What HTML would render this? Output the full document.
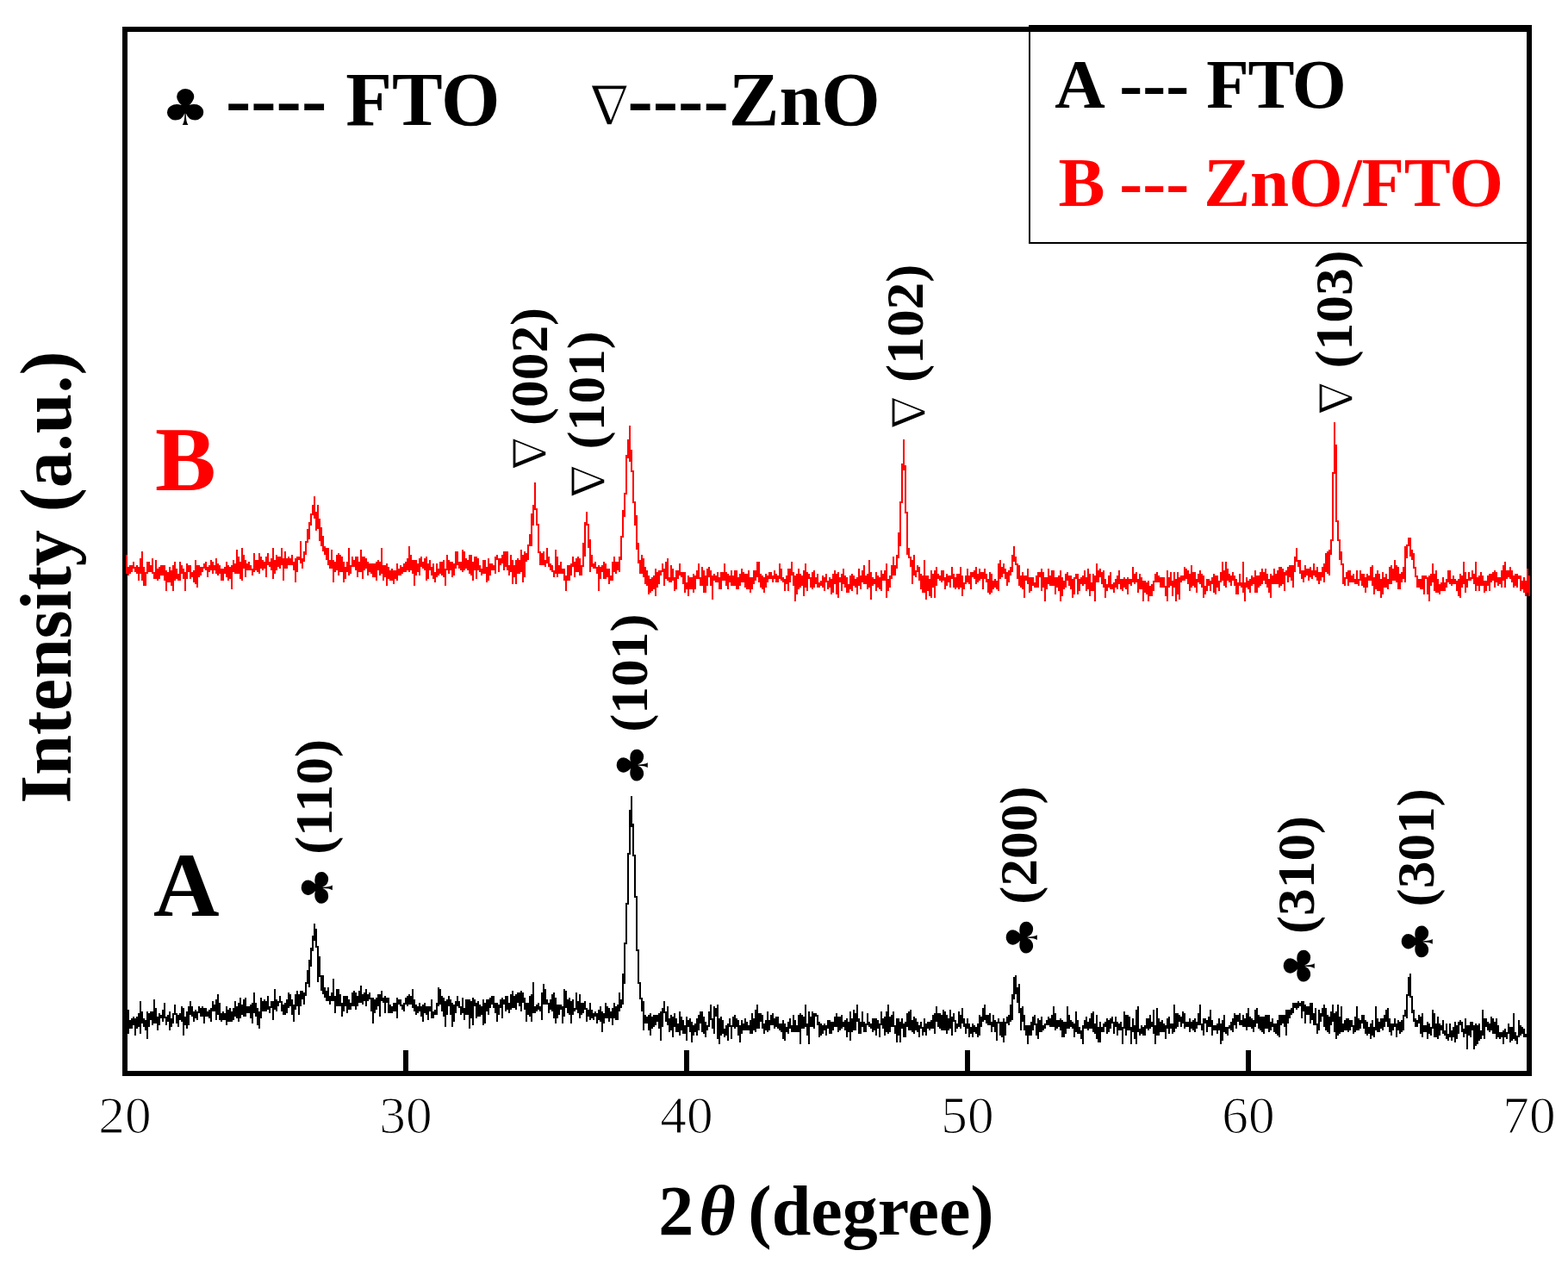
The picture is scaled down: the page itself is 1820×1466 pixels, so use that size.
<!DOCTYPE html>
<html><head><meta charset="utf-8"><title>XRD</title>
<style>html,body{margin:0;padding:0;background:#fff;overflow:hidden} svg{display:block}</style>
</head><body>
<svg width="1820" height="1466" viewBox="0 0 1820 1466" font-family='"Liberation Serif", "Times New Roman", serif'><rect width="100%" height="100%" fill="#fff"/><g fill="#000" shape-rendering="crispEdges"><rect x="142" y="31" width="1636" height="6"/><rect x="142" y="1243" width="1636" height="6"/><rect x="142" y="31" width="6" height="1218"/><rect x="1772" y="29" width="6" height="1220"/><rect x="468" y="1219" width="6" height="24"/><rect x="794" y="1219" width="6" height="24"/><rect x="1120" y="1219" width="6" height="24"/><rect x="1446" y="1219" width="6" height="24"/><rect x="1194" y="29" width="584" height="2"/><rect x="1194" y="29" width="2" height="254"/><rect x="1194" y="281" width="584" height="2"/></g><path d="M146 1178h2V1188h-2zM148 1172h2V1200h-2zM150 1184h2V1194h-2zM152 1182h2V1194h-2zM154 1180h2V1190h-2zM156 1182h2V1202h-2zM158 1180h2V1194h-2zM160 1176h2V1192h-2zM162 1162h2V1200h-2zM164 1174h2V1188h-2zM166 1182h2V1192h-2zM168 1184h2V1196h-2zM170 1174h2V1206h-2zM172 1176h2V1192h-2zM174 1174h2V1184h-2zM176 1174h2V1190h-2zM178 1160h2V1188h-2zM180 1170h2V1188h-2zM182 1180h2V1196h-2zM184 1176h2V1190h-2zM186 1178h2V1182h-2zM188 1172h2V1186h-2zM190 1164h2V1182h-2zM192 1180h2V1190h-2zM194 1178h2V1186h-2zM196 1174h2V1196h-2zM198 1182h2V1192h-2zM200 1176h2V1188h-2zM202 1166h2V1178h-2zM204 1176h2V1188h-2zM206 1178h2V1192h-2zM208 1176h2V1184h-2zM210 1168h2V1186h-2zM212 1170h2V1202h-2zM214 1180h2V1190h-2zM216 1174h2V1194h-2zM218 1168h2V1190h-2zM220 1162h2V1178h-2zM222 1168h2V1180h-2zM224 1174h2V1186h-2zM226 1172h2V1182h-2zM228 1174h2V1184h-2zM230 1168h2V1176h-2zM232 1170h2V1180h-2zM234 1168h2V1180h-2zM236 1170h2V1188h-2zM238 1170h2V1180h-2zM240 1174h2V1180h-2zM242 1172h2V1182h-2zM244 1170h2V1186h-2zM246 1162h2V1174h-2zM248 1166h2V1174h-2zM250 1160h2V1184h-2zM252 1154h2V1178h-2zM254 1164h2V1184h-2zM256 1176h2V1186h-2zM258 1174h2V1184h-2zM260 1176h2V1184h-2zM262 1168h2V1190h-2zM264 1172h2V1186h-2zM266 1170h2V1186h-2zM268 1174h2V1186h-2zM270 1170h2V1184h-2zM272 1162h2V1180h-2zM274 1168h2V1182h-2zM276 1164h2V1186h-2zM278 1158h2V1182h-2zM280 1166h2V1178h-2zM282 1160h2V1180h-2zM284 1158h2V1180h-2zM286 1168h2V1176h-2zM288 1168h2V1176h-2zM290 1166h2V1182h-2zM292 1164h2V1188h-2zM294 1152h2V1176h-2zM296 1164h2V1180h-2zM298 1170h2V1190h-2zM300 1174h2V1194h-2zM302 1158h2V1182h-2zM304 1162h2V1174h-2zM306 1160h2V1174h-2zM308 1162h2V1174h-2zM310 1156h2V1172h-2zM312 1168h2V1176h-2zM314 1162h2V1170h-2zM316 1162h2V1184h-2zM318 1148h2V1172h-2zM320 1160h2V1174h-2zM322 1162h2V1168h-2zM324 1156h2V1164h-2zM326 1162h2V1174h-2zM328 1166h2V1178h-2zM330 1164h2V1178h-2zM332 1160h2V1176h-2zM334 1152h2V1170h-2zM336 1154h2V1168h-2zM338 1160h2V1178h-2zM340 1166h2V1186h-2zM342 1154h2V1172h-2zM344 1150h2V1168h-2zM346 1154h2V1178h-2zM348 1150h2V1168h-2zM350 1150h2V1160h-2zM352 1152h2V1166h-2zM354 1140h2V1156h-2zM356 1126h2V1142h-2zM358 1114h2V1146h-2zM360 1100h2V1122h-2zM362 1086h2V1104h-2zM364 1072h2V1092h-2zM366 1078h2V1100h-2zM368 1098h2V1140h-2zM370 1110h2V1134h-2zM372 1132h2V1150h-2zM374 1132h2V1154h-2zM376 1146h2V1158h-2zM378 1150h2V1162h-2zM380 1146h2V1162h-2zM382 1156h2V1166h-2zM384 1152h2V1162h-2zM386 1136h2V1162h-2zM388 1156h2V1176h-2zM390 1148h2V1168h-2zM392 1148h2V1168h-2zM394 1154h2V1168h-2zM396 1164h2V1180h-2zM398 1156h2V1174h-2zM400 1156h2V1168h-2zM402 1156h2V1176h-2zM404 1160h2V1172h-2zM406 1164h2V1172h-2zM408 1152h2V1168h-2zM410 1150h2V1168h-2zM412 1152h2V1172h-2zM414 1156h2V1168h-2zM416 1150h2V1164h-2zM418 1144h2V1164h-2zM420 1154h2V1166h-2zM422 1152h2V1162h-2zM424 1148h2V1168h-2zM426 1154h2V1162h-2zM428 1152h2V1160h-2zM430 1158h2V1174h-2zM432 1158h2V1188h-2zM434 1160h2V1176h-2zM436 1158h2V1172h-2zM438 1154h2V1168h-2zM440 1154h2V1180h-2zM442 1150h2V1162h-2zM444 1158h2V1164h-2zM446 1156h2V1176h-2zM448 1158h2V1164h-2zM450 1158h2V1176h-2zM452 1166h2V1176h-2zM454 1168h2V1176h-2zM456 1164h2V1174h-2zM458 1164h2V1174h-2zM460 1158h2V1182h-2zM462 1160h2V1166h-2zM464 1160h2V1168h-2zM466 1166h2V1172h-2zM468 1164h2V1174h-2zM470 1158h2V1166h-2zM472 1156h2V1168h-2zM474 1154h2V1166h-2zM476 1156h2V1166h-2zM478 1148h2V1170h-2zM480 1160h2V1174h-2zM482 1166h2V1178h-2zM484 1168h2V1176h-2zM486 1164h2V1174h-2zM488 1168h2V1180h-2zM490 1166h2V1186h-2zM492 1164h2V1176h-2zM494 1168h2V1178h-2zM496 1168h2V1184h-2zM498 1168h2V1174h-2zM500 1160h2V1182h-2zM502 1174h2V1182h-2zM504 1172h2V1178h-2zM506 1164h2V1178h-2zM508 1146h2V1168h-2zM510 1148h2V1166h-2zM512 1156h2V1174h-2zM514 1158h2V1180h-2zM516 1162h2V1192h-2zM518 1160h2V1178h-2zM520 1156h2V1168h-2zM522 1160h2V1178h-2zM524 1164h2V1192h-2zM526 1166h2V1186h-2zM528 1162h2V1176h-2zM530 1156h2V1168h-2zM532 1162h2V1170h-2zM534 1168h2V1178h-2zM536 1158h2V1176h-2zM538 1170h2V1184h-2zM540 1160h2V1178h-2zM542 1160h2V1178h-2zM544 1160h2V1194h-2zM546 1162h2V1182h-2zM548 1158h2V1190h-2zM550 1160h2V1168h-2zM552 1164h2V1182h-2zM554 1162h2V1180h-2zM556 1166h2V1180h-2zM558 1168h2V1178h-2zM560 1160h2V1190h-2zM562 1164h2V1188h-2zM564 1160h2V1174h-2zM566 1160h2V1178h-2zM568 1158h2V1170h-2zM570 1156h2V1166h-2zM572 1156h2V1170h-2zM574 1164h2V1176h-2zM576 1164h2V1186h-2zM578 1166h2V1178h-2zM580 1160h2V1170h-2zM582 1158h2V1182h-2zM584 1160h2V1166h-2zM586 1156h2V1174h-2zM588 1156h2V1172h-2zM590 1164h2V1176h-2zM592 1154h2V1172h-2zM594 1150h2V1170h-2zM596 1156h2V1170h-2zM598 1154h2V1172h-2zM600 1152h2V1164h-2zM602 1152h2V1168h-2zM604 1150h2V1174h-2zM606 1152h2V1164h-2zM608 1158h2V1172h-2zM610 1164h2V1186h-2zM612 1164h2V1178h-2zM614 1156h2V1180h-2zM616 1154h2V1186h-2zM618 1140h2V1176h-2zM620 1168h2V1176h-2zM622 1166h2V1174h-2zM624 1164h2V1172h-2zM626 1168h2V1174h-2zM628 1152h2V1184h-2zM630 1142h2V1166h-2zM632 1148h2V1166h-2zM634 1160h2V1166h-2zM636 1164h2V1176h-2zM638 1160h2V1172h-2zM640 1154h2V1174h-2zM642 1152h2V1182h-2zM644 1158h2V1188h-2zM646 1166h2V1182h-2zM648 1166h2V1178h-2zM650 1166h2V1172h-2zM652 1168h2V1188h-2zM654 1148h2V1180h-2zM656 1150h2V1170h-2zM658 1160h2V1176h-2zM660 1158h2V1178h-2zM662 1162h2V1188h-2zM664 1160h2V1178h-2zM666 1170h2V1174h-2zM668 1152h2V1172h-2zM670 1162h2V1176h-2zM672 1154h2V1182h-2zM674 1164h2V1178h-2zM676 1164h2V1176h-2zM678 1162h2V1172h-2zM680 1170h2V1186h-2zM682 1172h2V1180h-2zM684 1164h2V1184h-2zM686 1172h2V1182h-2zM688 1176h2V1184h-2zM690 1174h2V1180h-2zM692 1176h2V1188h-2zM694 1172h2V1184h-2zM696 1168h2V1186h-2zM698 1174h2V1198h-2zM700 1176h2V1188h-2zM702 1164h2V1182h-2zM704 1168h2V1182h-2zM706 1170h2V1186h-2zM708 1174h2V1182h-2zM710 1170h2V1190h-2zM712 1164h2V1182h-2zM714 1168h2V1184h-2zM716 1166h2V1184h-2zM718 1152h2V1174h-2zM720 1160h2V1170h-2zM722 1130h2V1166h-2zM724 1094h2V1142h-2zM726 1048h2V1096h-2zM728 990h2V1050h-2zM730 940h2V992h-2zM732 924h2V960h-2zM734 956h2V994h-2zM736 992h2V1042h-2zM738 1040h2V1104h-2zM740 1102h2V1142h-2zM742 1140h2V1160h-2zM744 1158h2V1174h-2zM746 1162h2V1196h-2zM748 1178h2V1188h-2zM750 1180h2V1188h-2zM752 1178h2V1196h-2zM754 1176h2V1202h-2zM756 1180h2V1194h-2zM758 1178h2V1192h-2zM760 1178h2V1190h-2zM762 1178h2V1186h-2zM764 1176h2V1194h-2zM766 1174h2V1208h-2zM768 1170h2V1192h-2zM770 1162h2V1176h-2zM772 1174h2V1186h-2zM774 1168h2V1190h-2zM776 1182h2V1198h-2zM778 1178h2V1196h-2zM780 1180h2V1204h-2zM782 1176h2V1192h-2zM784 1182h2V1198h-2zM786 1188h2V1198h-2zM788 1174h2V1202h-2zM790 1180h2V1196h-2zM792 1184h2V1200h-2zM794 1190h2V1200h-2zM796 1180h2V1208h-2zM798 1184h2V1192h-2zM800 1182h2V1198h-2zM802 1186h2V1210h-2zM804 1190h2V1202h-2zM806 1188h2V1198h-2zM808 1182h2V1202h-2zM810 1178h2V1196h-2zM812 1174h2V1188h-2zM814 1174h2V1198h-2zM816 1180h2V1200h-2zM818 1186h2V1204h-2zM820 1190h2V1196h-2zM822 1174h2V1192h-2zM824 1166h2V1184h-2zM826 1182h2V1194h-2zM828 1168h2V1200h-2zM830 1170h2V1180h-2zM832 1166h2V1206h-2zM834 1182h2V1212h-2zM836 1180h2V1202h-2zM838 1184h2V1200h-2zM840 1194h2V1204h-2zM842 1190h2V1202h-2zM844 1188h2V1208h-2zM846 1182h2V1192h-2zM848 1190h2V1206h-2zM850 1180h2V1192h-2zM852 1178h2V1194h-2zM854 1182h2V1192h-2zM856 1184h2V1202h-2zM858 1190h2V1210h-2zM860 1184h2V1200h-2zM862 1188h2V1196h-2zM864 1182h2V1196h-2zM866 1186h2V1196h-2zM868 1190h2V1196h-2zM870 1184h2V1200h-2zM872 1176h2V1200h-2zM874 1182h2V1196h-2zM876 1172h2V1198h-2zM878 1166h2V1194h-2zM880 1176h2V1194h-2zM882 1176h2V1186h-2zM884 1178h2V1194h-2zM886 1188h2V1200h-2zM888 1184h2V1196h-2zM890 1174h2V1198h-2zM892 1184h2V1196h-2zM894 1178h2V1190h-2zM896 1176h2V1190h-2zM898 1182h2V1194h-2zM900 1180h2V1192h-2zM902 1180h2V1194h-2zM904 1188h2V1196h-2zM906 1188h2V1198h-2zM908 1184h2V1206h-2zM910 1188h2V1208h-2zM912 1192h2V1198h-2zM914 1186h2V1200h-2zM916 1182h2V1194h-2zM918 1190h2V1198h-2zM920 1178h2V1198h-2zM922 1184h2V1198h-2zM924 1190h2V1198h-2zM926 1178h2V1198h-2zM928 1176h2V1212h-2zM930 1178h2V1194h-2zM932 1180h2V1194h-2zM934 1166h2V1192h-2zM936 1188h2V1202h-2zM938 1174h2V1212h-2zM940 1180h2V1192h-2zM942 1174h2V1192h-2zM944 1176h2V1194h-2zM946 1176h2V1180h-2zM948 1178h2V1190h-2zM950 1186h2V1204h-2zM952 1188h2V1202h-2zM954 1190h2V1200h-2zM956 1188h2V1196h-2zM958 1190h2V1202h-2zM960 1184h2V1194h-2zM962 1184h2V1200h-2zM964 1186h2V1200h-2zM966 1186h2V1196h-2zM968 1180h2V1192h-2zM970 1176h2V1192h-2zM972 1180h2V1198h-2zM974 1180h2V1196h-2zM976 1178h2V1194h-2zM978 1186h2V1192h-2zM980 1184h2V1196h-2zM982 1182h2V1204h-2zM984 1186h2V1198h-2zM986 1174h2V1208h-2zM988 1182h2V1198h-2zM990 1172h2V1196h-2zM992 1176h2V1196h-2zM994 1166h2V1186h-2zM996 1182h2V1200h-2zM998 1186h2V1200h-2zM1000 1174h2V1192h-2zM1002 1186h2V1198h-2zM1004 1188h2V1198h-2zM1006 1176h2V1190h-2zM1008 1186h2V1192h-2zM1010 1188h2V1194h-2zM1012 1182h2V1198h-2zM1014 1182h2V1196h-2zM1016 1182h2V1202h-2zM1018 1184h2V1194h-2zM1020 1188h2V1204h-2zM1022 1174h2V1190h-2zM1024 1182h2V1194h-2zM1026 1180h2V1202h-2zM1028 1174h2V1198h-2zM1030 1166h2V1200h-2zM1032 1180h2V1198h-2zM1034 1178h2V1192h-2zM1036 1174h2V1192h-2zM1038 1190h2V1200h-2zM1040 1182h2V1210h-2zM1042 1182h2V1202h-2zM1044 1186h2V1210h-2zM1046 1182h2V1194h-2zM1048 1188h2V1204h-2zM1050 1186h2V1204h-2zM1052 1176h2V1192h-2zM1054 1174h2V1196h-2zM1056 1172h2V1196h-2zM1058 1184h2V1198h-2zM1060 1180h2V1200h-2zM1062 1182h2V1196h-2zM1064 1186h2V1198h-2zM1066 1190h2V1204h-2zM1068 1186h2V1194h-2zM1070 1192h2V1202h-2zM1072 1182h2V1198h-2zM1074 1188h2V1202h-2zM1076 1186h2V1194h-2zM1078 1186h2V1196h-2zM1080 1184h2V1194h-2zM1082 1178h2V1194h-2zM1084 1176h2V1200h-2zM1086 1168h2V1186h-2zM1088 1176h2V1192h-2zM1090 1176h2V1194h-2zM1092 1178h2V1196h-2zM1094 1172h2V1196h-2zM1096 1174h2V1196h-2zM1098 1178h2V1200h-2zM1100 1182h2V1196h-2zM1102 1172h2V1194h-2zM1104 1180h2V1202h-2zM1106 1176h2V1186h-2zM1108 1184h2V1198h-2zM1110 1188h2V1194h-2zM1112 1174h2V1192h-2zM1114 1178h2V1194h-2zM1116 1170h2V1188h-2zM1118 1182h2V1192h-2zM1120 1188h2V1200h-2zM1122 1182h2V1194h-2zM1124 1188h2V1204h-2zM1126 1192h2V1200h-2zM1128 1188h2V1204h-2zM1130 1190h2V1198h-2zM1132 1192h2V1200h-2zM1134 1188h2V1204h-2zM1136 1178h2V1202h-2zM1138 1180h2V1192h-2zM1140 1170h2V1186h-2zM1142 1166h2V1184h-2zM1144 1178h2V1188h-2zM1146 1178h2V1190h-2zM1148 1176h2V1190h-2zM1150 1186h2V1198h-2zM1152 1178h2V1192h-2zM1154 1184h2V1198h-2zM1156 1186h2V1208h-2zM1158 1182h2V1188h-2zM1160 1186h2V1202h-2zM1162 1186h2V1204h-2zM1164 1182h2V1210h-2zM1166 1186h2V1202h-2zM1168 1180h2V1188h-2zM1170 1178h2V1190h-2zM1172 1166h2V1186h-2zM1174 1154h2V1184h-2zM1176 1134h2V1160h-2zM1178 1132h2V1154h-2zM1180 1146h2V1164h-2zM1182 1142h2V1176h-2zM1184 1170h2V1196h-2zM1186 1168h2V1186h-2zM1188 1178h2V1196h-2zM1190 1190h2V1202h-2zM1192 1190h2V1212h-2zM1194 1190h2V1202h-2zM1196 1186h2V1202h-2zM1198 1180h2V1196h-2zM1200 1178h2V1190h-2zM1202 1188h2V1202h-2zM1204 1182h2V1206h-2zM1206 1184h2V1198h-2zM1208 1180h2V1198h-2zM1210 1190h2V1196h-2zM1212 1188h2V1194h-2zM1214 1184h2V1190h-2zM1216 1180h2V1190h-2zM1218 1182h2V1192h-2zM1220 1178h2V1192h-2zM1222 1168h2V1192h-2zM1224 1176h2V1196h-2zM1226 1184h2V1194h-2zM1228 1184h2V1192h-2zM1230 1182h2V1196h-2zM1232 1184h2V1204h-2zM1234 1186h2V1204h-2zM1236 1186h2V1200h-2zM1238 1168h2V1194h-2zM1240 1178h2V1194h-2zM1242 1184h2V1192h-2zM1244 1186h2V1194h-2zM1246 1188h2V1204h-2zM1248 1174h2V1198h-2zM1250 1184h2V1200h-2zM1252 1192h2V1200h-2zM1254 1196h2V1206h-2zM1256 1190h2V1212h-2zM1258 1184h2V1194h-2zM1260 1180h2V1194h-2zM1262 1186h2V1196h-2zM1264 1182h2V1194h-2zM1266 1176h2V1194h-2zM1268 1174h2V1198h-2zM1270 1188h2V1200h-2zM1272 1178h2V1206h-2zM1274 1192h2V1210h-2zM1276 1186h2V1210h-2zM1278 1192h2V1198h-2zM1280 1188h2V1198h-2zM1282 1186h2V1192h-2zM1284 1182h2V1200h-2zM1286 1184h2V1198h-2zM1288 1182h2V1194h-2zM1290 1180h2V1188h-2zM1292 1186h2V1200h-2zM1294 1180h2V1192h-2zM1296 1186h2V1202h-2zM1298 1188h2V1196h-2zM1300 1186h2V1196h-2zM1302 1192h2V1212h-2zM1304 1174h2V1194h-2zM1306 1178h2V1202h-2zM1308 1178h2V1196h-2zM1310 1180h2V1196h-2zM1312 1192h2V1212h-2zM1314 1182h2V1198h-2zM1316 1190h2V1206h-2zM1318 1172h2V1212h-2zM1320 1168h2V1198h-2zM1322 1194h2V1202h-2zM1324 1190h2V1200h-2zM1326 1192h2V1202h-2zM1328 1190h2V1202h-2zM1330 1182h2V1194h-2zM1332 1182h2V1196h-2zM1334 1178h2V1194h-2zM1336 1186h2V1192h-2zM1338 1172h2V1200h-2zM1340 1190h2V1212h-2zM1342 1170h2V1202h-2zM1344 1182h2V1202h-2zM1346 1186h2V1198h-2zM1348 1184h2V1198h-2zM1350 1188h2V1198h-2zM1352 1190h2V1206h-2zM1354 1182h2V1194h-2zM1356 1180h2V1200h-2zM1358 1188h2V1194h-2zM1360 1188h2V1200h-2zM1362 1166h2V1198h-2zM1364 1176h2V1194h-2zM1366 1176h2V1192h-2zM1368 1178h2V1186h-2zM1370 1180h2V1192h-2zM1372 1174h2V1188h-2zM1374 1176h2V1194h-2zM1376 1186h2V1192h-2zM1378 1186h2V1192h-2zM1380 1182h2V1198h-2zM1382 1186h2V1194h-2zM1384 1184h2V1196h-2zM1386 1182h2V1198h-2zM1388 1186h2V1194h-2zM1390 1176h2V1190h-2zM1392 1166h2V1190h-2zM1394 1188h2V1196h-2zM1396 1182h2V1202h-2zM1398 1182h2V1188h-2zM1400 1184h2V1198h-2zM1402 1180h2V1192h-2zM1404 1172h2V1192h-2zM1406 1184h2V1202h-2zM1408 1190h2V1196h-2zM1410 1190h2V1196h-2zM1412 1188h2V1200h-2zM1414 1182h2V1196h-2zM1416 1188h2V1212h-2zM1418 1184h2V1208h-2zM1420 1178h2V1198h-2zM1422 1192h2V1200h-2zM1424 1192h2V1202h-2zM1426 1190h2V1194h-2zM1428 1186h2V1196h-2zM1430 1182h2V1198h-2zM1432 1176h2V1190h-2zM1434 1178h2V1194h-2zM1436 1178h2V1186h-2zM1438 1176h2V1190h-2zM1440 1184h2V1190h-2zM1442 1178h2V1192h-2zM1444 1182h2V1192h-2zM1446 1176h2V1196h-2zM1448 1170h2V1192h-2zM1450 1180h2V1192h-2zM1452 1182h2V1194h-2zM1454 1184h2V1198h-2zM1456 1172h2V1192h-2zM1458 1170h2V1188h-2zM1460 1178h2V1194h-2zM1462 1180h2V1196h-2zM1464 1180h2V1198h-2zM1466 1180h2V1200h-2zM1468 1178h2V1194h-2zM1470 1178h2V1194h-2zM1472 1178h2V1198h-2zM1474 1186h2V1196h-2zM1476 1182h2V1192h-2zM1478 1188h2V1198h-2zM1480 1188h2V1200h-2zM1482 1184h2V1202h-2zM1484 1178h2V1204h-2zM1486 1178h2V1190h-2zM1488 1178h2V1188h-2zM1490 1178h2V1192h-2zM1492 1172h2V1202h-2zM1494 1172h2V1188h-2zM1496 1172h2V1182h-2zM1498 1170h2V1178h-2zM1500 1164h2V1176h-2zM1502 1164h2V1170h-2zM1504 1164h2V1172h-2zM1506 1162h2V1170h-2zM1508 1164h2V1168h-2zM1510 1162h2V1182h-2zM1512 1162h2V1174h-2zM1514 1166h2V1188h-2zM1516 1168h2V1178h-2zM1518 1168h2V1178h-2zM1520 1164h2V1188h-2zM1522 1164h2V1184h-2zM1524 1176h2V1190h-2zM1526 1170h2V1190h-2zM1528 1188h2V1200h-2zM1530 1172h2V1196h-2zM1532 1176h2V1186h-2zM1534 1170h2V1180h-2zM1536 1166h2V1192h-2zM1538 1170h2V1196h-2zM1540 1178h2V1198h-2zM1542 1180h2V1200h-2zM1544 1174h2V1190h-2zM1546 1166h2V1186h-2zM1548 1176h2V1198h-2zM1550 1174h2V1206h-2zM1552 1166h2V1202h-2zM1554 1180h2V1200h-2zM1556 1168h2V1198h-2zM1558 1188h2V1198h-2zM1560 1184h2V1196h-2zM1562 1182h2V1196h-2zM1564 1182h2V1198h-2zM1566 1184h2V1196h-2zM1568 1184h2V1192h-2zM1570 1190h2V1200h-2zM1572 1180h2V1198h-2zM1574 1168h2V1196h-2zM1576 1182h2V1196h-2zM1578 1184h2V1194h-2zM1580 1178h2V1188h-2zM1582 1178h2V1194h-2zM1584 1184h2V1200h-2zM1586 1186h2V1202h-2zM1588 1192h2V1200h-2zM1590 1188h2V1206h-2zM1592 1184h2V1202h-2zM1594 1192h2V1204h-2zM1596 1168h2V1196h-2zM1598 1182h2V1198h-2zM1600 1186h2V1198h-2zM1602 1182h2V1194h-2zM1604 1182h2V1196h-2zM1606 1178h2V1192h-2zM1608 1172h2V1186h-2zM1610 1170h2V1192h-2zM1612 1182h2V1198h-2zM1614 1188h2V1202h-2zM1616 1188h2V1196h-2zM1618 1182h2V1192h-2zM1620 1188h2V1204h-2zM1622 1184h2V1196h-2zM1624 1186h2V1200h-2zM1626 1184h2V1198h-2zM1628 1178h2V1196h-2zM1630 1172h2V1180h-2zM1632 1154h2V1182h-2zM1634 1134h2V1156h-2zM1636 1130h2V1158h-2zM1638 1156h2V1176h-2zM1640 1172h2V1186h-2zM1642 1182h2V1192h-2zM1644 1184h2V1192h-2zM1646 1178h2V1188h-2zM1648 1180h2V1200h-2zM1650 1176h2V1204h-2zM1652 1190h2V1198h-2zM1654 1190h2V1198h-2zM1656 1186h2V1206h-2zM1658 1188h2V1200h-2zM1660 1192h2V1202h-2zM1662 1172h2V1194h-2zM1664 1176h2V1204h-2zM1666 1188h2V1204h-2zM1668 1180h2V1206h-2zM1670 1188h2V1202h-2zM1672 1190h2V1196h-2zM1674 1184h2V1200h-2zM1676 1196h2V1202h-2zM1678 1188h2V1206h-2zM1680 1200h2V1208h-2zM1682 1188h2V1204h-2zM1684 1196h2V1208h-2zM1686 1192h2V1204h-2zM1688 1186h2V1210h-2zM1690 1190h2V1206h-2zM1692 1186h2V1200h-2zM1694 1184h2V1190h-2zM1696 1186h2V1198h-2zM1698 1194h2V1204h-2zM1700 1182h2V1200h-2zM1702 1190h2V1218h-2zM1704 1190h2V1202h-2zM1706 1186h2V1204h-2zM1708 1186h2V1196h-2zM1710 1190h2V1218h-2zM1712 1188h2V1214h-2zM1714 1190h2V1212h-2zM1716 1188h2V1208h-2zM1718 1196h2V1206h-2zM1720 1172h2V1202h-2zM1722 1182h2V1206h-2zM1724 1182h2V1192h-2zM1726 1186h2V1196h-2zM1728 1188h2V1198h-2zM1730 1180h2V1196h-2zM1732 1182h2V1200h-2zM1734 1186h2V1200h-2zM1736 1182h2V1206h-2zM1738 1190h2V1204h-2zM1740 1198h2V1206h-2zM1742 1198h2V1204h-2zM1744 1196h2V1212h-2zM1746 1194h2V1204h-2zM1748 1198h2V1206h-2zM1750 1188h2V1200h-2zM1752 1192h2V1210h-2zM1754 1192h2V1208h-2zM1756 1176h2V1206h-2zM1758 1198h2V1208h-2zM1760 1202h2V1212h-2zM1762 1184h2V1204h-2zM1764 1190h2V1202h-2zM1766 1192h2V1200h-2zM1768 1194h2V1204h-2zM1770 1200h2V1204h-2zM1772 1188h2V1202h-2zM1774 1190h2V1206h-2z" fill="#000" shape-rendering="crispEdges"/><path d="M146 644h2V666h-2zM148 658h2V668h-2zM150 656h2V666h-2zM152 656h2V664h-2zM154 652h2V660h-2zM156 658h2V664h-2zM158 656h2V666h-2zM160 658h2V674h-2zM162 648h2V666h-2zM164 640h2V674h-2zM166 658h2V680h-2zM168 664h2V680h-2zM170 652h2V666h-2zM172 652h2V664h-2zM174 656h2V664h-2zM176 648h2V666h-2zM178 664h2V672h-2zM180 650h2V672h-2zM182 660h2V674h-2zM184 658h2V672h-2zM186 656h2V668h-2zM188 656h2V668h-2zM190 656h2V674h-2zM192 662h2V686h-2zM194 664h2V676h-2zM196 658h2V676h-2zM198 662h2V680h-2zM200 656h2V686h-2zM202 652h2V674h-2zM204 660h2V672h-2zM206 666h2V674h-2zM208 652h2V674h-2zM210 656h2V666h-2zM212 660h2V672h-2zM214 664h2V686h-2zM216 654h2V672h-2zM218 656h2V664h-2zM220 656h2V672h-2zM222 664h2V670h-2zM224 662h2V676h-2zM226 650h2V678h-2zM228 656h2V682h-2zM230 656h2V670h-2zM232 658h2V668h-2zM234 658h2V664h-2zM236 654h2V660h-2zM238 652h2V662h-2zM240 658h2V670h-2zM242 656h2V664h-2zM244 650h2V662h-2zM246 652h2V666h-2zM248 656h2V662h-2zM250 648h2V666h-2zM252 654h2V668h-2zM254 656h2V666h-2zM256 660h2V674h-2zM258 660h2V674h-2zM260 658h2V666h-2zM262 652h2V670h-2zM264 656h2V674h-2zM266 658h2V672h-2zM268 656h2V684h-2zM270 650h2V664h-2zM272 654h2V666h-2zM274 638h2V666h-2zM276 646h2V666h-2zM278 652h2V672h-2zM280 636h2V674h-2zM282 644h2V660h-2zM284 650h2V670h-2zM286 654h2V662h-2zM288 652h2V662h-2zM290 656h2V662h-2zM292 660h2V668h-2zM294 642h2V664h-2zM296 650h2V662h-2zM298 650h2V664h-2zM300 642h2V666h-2zM302 646h2V660h-2zM304 650h2V662h-2zM306 652h2V660h-2zM308 646h2V670h-2zM310 642h2V656h-2zM312 652h2V658h-2zM314 648h2V662h-2zM316 636h2V672h-2zM318 650h2V666h-2zM320 644h2V662h-2zM322 646h2V658h-2zM324 646h2V660h-2zM326 636h2V656h-2zM328 648h2V674h-2zM330 640h2V660h-2zM332 648h2V660h-2zM334 646h2V656h-2zM336 648h2V656h-2zM338 644h2V656h-2zM340 652h2V662h-2zM342 648h2V676h-2zM344 646h2V664h-2zM346 646h2V650h-2zM348 628h2V654h-2zM350 648h2V660h-2zM352 640h2V652h-2zM354 628h2V644h-2zM356 614h2V630h-2zM358 606h2V626h-2zM360 596h2V610h-2zM362 586h2V598h-2zM364 576h2V602h-2zM366 594h2V616h-2zM368 586h2V614h-2zM370 602h2V628h-2zM372 612h2V634h-2zM374 622h2V640h-2zM376 634h2V644h-2zM378 636h2V650h-2zM380 636h2V656h-2zM382 650h2V660h-2zM384 638h2V660h-2zM386 650h2V676h-2zM388 652h2V664h-2zM390 644h2V662h-2zM392 642h2V668h-2zM394 644h2V664h-2zM396 646h2V664h-2zM398 652h2V676h-2zM400 658h2V672h-2zM402 652h2V664h-2zM404 636h2V668h-2zM406 656h2V666h-2zM408 646h2V658h-2zM410 650h2V658h-2zM412 646h2V662h-2zM414 646h2V670h-2zM416 652h2V664h-2zM418 638h2V664h-2zM420 646h2V672h-2zM422 646h2V662h-2zM424 648h2V660h-2zM426 652h2V668h-2zM428 654h2V664h-2zM430 654h2V666h-2zM432 654h2V670h-2zM434 654h2V670h-2zM436 652h2V674h-2zM438 650h2V662h-2zM440 652h2V668h-2zM442 636h2V666h-2zM444 656h2V674h-2zM446 656h2V670h-2zM448 654h2V680h-2zM450 658h2V672h-2zM452 662h2V674h-2zM454 660h2V674h-2zM456 662h2V678h-2zM458 662h2V672h-2zM460 654h2V674h-2zM462 660h2V668h-2zM464 656h2V668h-2zM466 658h2V666h-2zM468 654h2V664h-2zM470 652h2V664h-2zM472 648h2V662h-2zM474 634h2V664h-2zM476 644h2V662h-2zM478 650h2V666h-2zM480 650h2V680h-2zM482 650h2V668h-2zM484 654h2V664h-2zM486 648h2V668h-2zM488 646h2V658h-2zM490 652h2V660h-2zM492 648h2V662h-2zM494 646h2V674h-2zM496 654h2V672h-2zM498 650h2V662h-2zM500 658h2V668h-2zM502 654h2V672h-2zM504 664h2V676h-2zM506 654h2V670h-2zM508 660h2V668h-2zM510 652h2V666h-2zM512 652h2V668h-2zM514 650h2V670h-2zM516 660h2V680h-2zM518 644h2V662h-2zM520 650h2V666h-2zM522 652h2V662h-2zM524 652h2V670h-2zM526 654h2V668h-2zM528 640h2V660h-2zM530 640h2V656h-2zM532 652h2V660h-2zM534 652h2V662h-2zM536 638h2V664h-2zM538 640h2V662h-2zM540 648h2V660h-2zM542 650h2V662h-2zM544 644h2V666h-2zM546 644h2V668h-2zM548 652h2V674h-2zM550 646h2V662h-2zM552 646h2V672h-2zM554 648h2V662h-2zM556 656h2V664h-2zM558 660h2V668h-2zM560 650h2V666h-2zM562 650h2V666h-2zM564 658h2V676h-2zM566 648h2V674h-2zM568 654h2V668h-2zM570 654h2V662h-2zM572 656h2V662h-2zM574 646h2V666h-2zM576 644h2V650h-2zM578 648h2V664h-2zM580 648h2V656h-2zM582 644h2V654h-2zM584 640h2V662h-2zM586 640h2V658h-2zM588 640h2V662h-2zM590 656h2V668h-2zM592 644h2V664h-2zM594 650h2V678h-2zM596 656h2V670h-2zM598 650h2V678h-2zM600 648h2V666h-2zM602 650h2V666h-2zM604 638h2V664h-2zM606 644h2V676h-2zM608 640h2V670h-2zM610 642h2V652h-2zM612 632h2V650h-2zM614 620h2V634h-2zM616 596h2V634h-2zM618 586h2V610h-2zM620 560h2V592h-2zM622 590h2V610h-2zM624 608h2V642h-2zM626 640h2V656h-2zM628 642h2V656h-2zM630 640h2V656h-2zM632 650h2V658h-2zM634 636h2V654h-2zM636 646h2V658h-2zM638 654h2V662h-2zM640 656h2V664h-2zM642 662h2V670h-2zM644 638h2V666h-2zM646 646h2V670h-2zM648 656h2V666h-2zM650 652h2V666h-2zM652 660h2V666h-2zM654 660h2V674h-2zM656 668h2V686h-2zM658 656h2V674h-2zM660 656h2V674h-2zM662 654h2V668h-2zM664 646h2V658h-2zM666 652h2V670h-2zM668 648h2V664h-2zM670 646h2V664h-2zM672 648h2V668h-2zM674 656h2V668h-2zM676 630h2V658h-2zM678 606h2V646h-2zM680 594h2V610h-2zM682 608h2V636h-2zM684 626h2V664h-2zM686 644h2V658h-2zM688 654h2V660h-2zM690 652h2V660h-2zM692 658h2V666h-2zM694 656h2V686h-2zM696 658h2V672h-2zM698 656h2V664h-2zM700 652h2V672h-2zM702 654h2V672h-2zM704 660h2V670h-2zM706 660h2V678h-2zM708 668h2V674h-2zM710 652h2V674h-2zM712 646h2V664h-2zM714 652h2V666h-2zM716 652h2V662h-2zM718 646h2V664h-2zM720 622h2V650h-2zM722 592h2V624h-2zM724 572h2V600h-2zM726 528h2V574h-2zM728 510h2V532h-2zM730 494h2V536h-2zM732 522h2V548h-2zM734 546h2V584h-2zM736 582h2V610h-2zM738 598h2V638h-2zM740 630h2V654h-2zM742 650h2V666h-2zM744 644h2V666h-2zM746 648h2V670h-2zM748 658h2V678h-2zM750 662h2V680h-2zM752 668h2V690h-2zM754 672h2V688h-2zM756 670h2V686h-2zM758 668h2V684h-2zM760 660h2V692h-2zM762 664h2V682h-2zM764 662h2V678h-2zM766 662h2V668h-2zM768 654h2V664h-2zM770 660h2V680h-2zM772 652h2V672h-2zM774 648h2V674h-2zM776 670h2V676h-2zM778 656h2V676h-2zM780 660h2V674h-2zM782 670h2V686h-2zM784 662h2V684h-2zM786 662h2V672h-2zM788 654h2V668h-2zM790 664h2V670h-2zM792 664h2V678h-2zM794 664h2V688h-2zM796 676h2V684h-2zM798 668h2V692h-2zM800 670h2V684h-2zM802 670h2V684h-2zM804 666h2V688h-2zM806 668h2V684h-2zM808 662h2V672h-2zM810 654h2V672h-2zM812 670h2V680h-2zM814 658h2V680h-2zM816 662h2V688h-2zM818 668h2V688h-2zM820 660h2V680h-2zM822 658h2V670h-2zM824 662h2V680h-2zM826 668h2V696h-2zM828 666h2V674h-2zM830 668h2V676h-2zM832 664h2V676h-2zM834 670h2V684h-2zM836 664h2V684h-2zM838 664h2V674h-2zM840 654h2V674h-2zM842 664h2V680h-2zM844 666h2V684h-2zM846 668h2V676h-2zM848 662h2V680h-2zM850 668h2V680h-2zM852 662h2V680h-2zM854 662h2V684h-2zM856 670h2V684h-2zM858 666h2V680h-2zM860 660h2V676h-2zM862 664h2V676h-2zM864 666h2V682h-2zM866 666h2V684h-2zM868 662h2V684h-2zM870 670h2V688h-2zM872 670h2V684h-2zM874 662h2V678h-2zM876 662h2V674h-2zM878 652h2V670h-2zM880 652h2V676h-2zM882 666h2V682h-2zM884 668h2V684h-2zM886 670h2V688h-2zM888 666h2V682h-2zM890 668h2V676h-2zM892 664h2V672h-2zM894 664h2V672h-2zM896 668h2V676h-2zM898 662h2V672h-2zM900 666h2V676h-2zM902 668h2V676h-2zM904 654h2V672h-2zM906 660h2V674h-2zM908 670h2V676h-2zM910 672h2V686h-2zM912 668h2V678h-2zM914 660h2V686h-2zM916 660h2V676h-2zM918 652h2V668h-2zM920 664h2V680h-2zM922 668h2V698h-2zM924 666h2V690h-2zM926 660h2V684h-2zM928 666h2V682h-2zM930 668h2V680h-2zM932 662h2V692h-2zM934 654h2V682h-2zM936 664h2V686h-2zM938 666h2V672h-2zM940 670h2V682h-2zM942 664h2V684h-2zM944 662h2V682h-2zM946 670h2V678h-2zM948 666h2V682h-2zM950 676h2V682h-2zM952 674h2V680h-2zM954 668h2V682h-2zM956 670h2V686h-2zM958 666h2V676h-2zM960 674h2V684h-2zM962 670h2V682h-2zM964 672h2V690h-2zM966 666h2V688h-2zM968 662h2V678h-2zM970 666h2V690h-2zM972 664h2V694h-2zM974 670h2V676h-2zM976 666h2V686h-2zM978 660h2V678h-2zM980 668h2V682h-2zM982 670h2V688h-2zM984 678h2V688h-2zM986 668h2V684h-2zM988 666h2V686h-2zM990 668h2V680h-2zM992 672h2V682h-2zM994 670h2V690h-2zM996 660h2V680h-2zM998 668h2V684h-2zM1000 662h2V676h-2zM1002 656h2V678h-2zM1004 668h2V678h-2zM1006 666h2V684h-2zM1008 650h2V682h-2zM1010 664h2V696h-2zM1012 670h2V680h-2zM1014 672h2V678h-2zM1016 664h2V686h-2zM1018 668h2V682h-2zM1020 670h2V684h-2zM1022 662h2V686h-2zM1024 666h2V674h-2zM1026 662h2V674h-2zM1028 654h2V694h-2zM1030 672h2V686h-2zM1032 668h2V682h-2zM1034 656h2V672h-2zM1036 646h2V668h-2zM1038 656h2V668h-2zM1040 644h2V660h-2zM1042 618h2V648h-2zM1044 582h2V634h-2zM1046 538h2V584h-2zM1048 510h2V546h-2zM1050 540h2V596h-2zM1052 594h2V644h-2zM1054 636h2V648h-2zM1056 646h2V658h-2zM1058 650h2V678h-2zM1060 644h2V668h-2zM1062 662h2V670h-2zM1064 656h2V664h-2zM1066 658h2V674h-2zM1068 666h2V684h-2zM1070 668h2V688h-2zM1072 650h2V688h-2zM1074 668h2V696h-2zM1076 668h2V686h-2zM1078 672h2V692h-2zM1080 662h2V694h-2zM1082 666h2V682h-2zM1084 662h2V694h-2zM1086 658h2V680h-2zM1088 666h2V672h-2zM1090 668h2V674h-2zM1092 662h2V676h-2zM1094 662h2V674h-2zM1096 670h2V684h-2zM1098 666h2V680h-2zM1100 668h2V676h-2zM1102 668h2V682h-2zM1104 658h2V672h-2zM1106 666h2V682h-2zM1108 670h2V684h-2zM1110 666h2V682h-2zM1112 666h2V684h-2zM1114 658h2V682h-2zM1116 668h2V692h-2zM1118 676h2V684h-2zM1120 668h2V678h-2zM1122 660h2V676h-2zM1124 668h2V678h-2zM1126 664h2V684h-2zM1128 664h2V670h-2zM1130 662h2V672h-2zM1132 658h2V678h-2zM1134 666h2V676h-2zM1136 660h2V674h-2zM1138 664h2V672h-2zM1140 664h2V684h-2zM1142 660h2V672h-2zM1144 666h2V676h-2zM1146 672h2V688h-2zM1148 664h2V690h-2zM1150 666h2V688h-2zM1152 674h2V684h-2zM1154 672h2V682h-2zM1156 674h2V684h-2zM1158 654h2V686h-2zM1160 650h2V672h-2zM1162 658h2V670h-2zM1164 654h2V666h-2zM1166 660h2V672h-2zM1168 664h2V680h-2zM1170 662h2V676h-2zM1172 658h2V668h-2zM1174 644h2V664h-2zM1176 634h2V652h-2zM1178 646h2V656h-2zM1180 654h2V672h-2zM1182 656h2V680h-2zM1184 668h2V682h-2zM1186 664h2V684h-2zM1188 668h2V694h-2zM1190 668h2V674h-2zM1192 660h2V678h-2zM1194 670h2V688h-2zM1196 670h2V686h-2zM1198 670h2V680h-2zM1200 676h2V682h-2zM1202 668h2V682h-2zM1204 664h2V682h-2zM1206 664h2V670h-2zM1208 660h2V686h-2zM1210 664h2V682h-2zM1212 670h2V698h-2zM1214 670h2V684h-2zM1216 660h2V678h-2zM1218 668h2V680h-2zM1220 662h2V680h-2zM1222 662h2V680h-2zM1224 670h2V690h-2zM1226 670h2V682h-2zM1228 668h2V686h-2zM1230 662h2V698h-2zM1232 670h2V692h-2zM1234 674h2V684h-2zM1236 666h2V682h-2zM1238 664h2V674h-2zM1240 668h2V680h-2zM1242 668h2V684h-2zM1244 672h2V694h-2zM1246 670h2V690h-2zM1248 666h2V672h-2zM1250 666h2V690h-2zM1252 672h2V686h-2zM1254 670h2V678h-2zM1256 668h2V680h-2zM1258 662h2V678h-2zM1260 670h2V686h-2zM1262 660h2V684h-2zM1264 666h2V692h-2zM1266 676h2V686h-2zM1268 666h2V686h-2zM1270 668h2V698h-2zM1272 654h2V676h-2zM1274 662h2V676h-2zM1276 660h2V670h-2zM1278 664h2V678h-2zM1280 662h2V682h-2zM1282 672h2V694h-2zM1284 678h2V686h-2zM1286 668h2V682h-2zM1288 664h2V684h-2zM1290 678h2V684h-2zM1292 676h2V688h-2zM1294 672h2V682h-2zM1296 668h2V684h-2zM1298 662h2V678h-2zM1300 672h2V684h-2zM1302 672h2V686h-2zM1304 670h2V682h-2zM1306 672h2V684h-2zM1308 670h2V690h-2zM1310 672h2V678h-2zM1312 672h2V680h-2zM1314 658h2V676h-2zM1316 666h2V678h-2zM1318 664h2V676h-2zM1320 672h2V688h-2zM1322 666h2V684h-2zM1324 670h2V684h-2zM1326 674h2V698h-2zM1328 674h2V688h-2zM1330 676h2V690h-2zM1332 674h2V698h-2zM1334 680h2V692h-2zM1336 678h2V692h-2zM1338 674h2V686h-2zM1340 666h2V676h-2zM1342 664h2V676h-2zM1344 668h2V676h-2zM1346 670h2V682h-2zM1348 670h2V682h-2zM1350 670h2V682h-2zM1352 680h2V692h-2zM1354 662h2V698h-2zM1356 670h2V682h-2zM1358 664h2V680h-2zM1360 674h2V692h-2zM1362 664h2V682h-2zM1364 672h2V698h-2zM1366 664h2V690h-2zM1368 670h2V696h-2zM1370 668h2V676h-2zM1372 668h2V674h-2zM1374 658h2V674h-2zM1376 660h2V672h-2zM1378 662h2V678h-2zM1380 666h2V686h-2zM1382 656h2V682h-2zM1384 664h2V680h-2zM1386 664h2V682h-2zM1388 672h2V688h-2zM1390 666h2V676h-2zM1392 662h2V678h-2zM1394 666h2V682h-2zM1396 668h2V694h-2zM1398 680h2V690h-2zM1400 672h2V686h-2zM1402 672h2V680h-2zM1404 674h2V686h-2zM1406 670h2V678h-2zM1408 666h2V688h-2zM1410 668h2V690h-2zM1412 668h2V682h-2zM1414 674h2V686h-2zM1416 664h2V676h-2zM1418 652h2V674h-2zM1420 662h2V680h-2zM1422 652h2V682h-2zM1424 660h2V674h-2zM1426 666h2V676h-2zM1428 668h2V680h-2zM1430 664h2V674h-2zM1432 668h2V680h-2zM1434 672h2V690h-2zM1436 676h2V690h-2zM1438 666h2V680h-2zM1440 676h2V682h-2zM1442 652h2V688h-2zM1444 676h2V698h-2zM1446 670h2V682h-2zM1448 674h2V684h-2zM1450 672h2V688h-2zM1452 668h2V680h-2zM1454 670h2V678h-2zM1456 662h2V688h-2zM1458 668h2V688h-2zM1460 668h2V682h-2zM1462 664h2V680h-2zM1464 660h2V678h-2zM1466 664h2V674h-2zM1468 660h2V678h-2zM1470 666h2V682h-2zM1472 672h2V688h-2zM1474 666h2V694h-2zM1476 668h2V678h-2zM1478 660h2V678h-2zM1480 666h2V678h-2zM1482 662h2V678h-2zM1484 658h2V682h-2zM1486 658h2V680h-2zM1488 660h2V678h-2zM1490 664h2V686h-2zM1492 662h2V668h-2zM1494 658h2V676h-2zM1496 656h2V670h-2zM1498 656h2V674h-2zM1500 656h2V682h-2zM1502 646h2V664h-2zM1504 636h2V652h-2zM1506 650h2V658h-2zM1508 650h2V666h-2zM1510 662h2V672h-2zM1512 662h2V676h-2zM1514 656h2V670h-2zM1516 660h2V668h-2zM1518 660h2V674h-2zM1520 658h2V670h-2zM1522 662h2V672h-2zM1524 654h2V668h-2zM1526 662h2V670h-2zM1528 658h2V674h-2zM1530 664h2V678h-2zM1532 664h2V674h-2zM1534 658h2V670h-2zM1536 654h2V676h-2zM1538 642h2V664h-2zM1540 640h2V666h-2zM1542 638h2V668h-2zM1544 626h2V644h-2zM1546 548h2V628h-2zM1548 490h2V550h-2zM1550 516h2V606h-2zM1552 604h2V628h-2zM1554 626h2V650h-2zM1556 640h2V656h-2zM1558 654h2V678h-2zM1560 670h2V680h-2zM1562 664h2V672h-2zM1564 662h2V680h-2zM1566 662h2V676h-2zM1568 668h2V676h-2zM1570 666h2V676h-2zM1572 672h2V678h-2zM1574 662h2V678h-2zM1576 672h2V680h-2zM1578 662h2V674h-2zM1580 666h2V680h-2zM1582 666h2V682h-2zM1584 670h2V688h-2zM1586 666h2V682h-2zM1588 668h2V674h-2zM1590 658h2V674h-2zM1592 656h2V680h-2zM1594 670h2V690h-2zM1596 666h2V684h-2zM1598 662h2V686h-2zM1600 666h2V686h-2zM1602 672h2V694h-2zM1604 664h2V690h-2zM1606 670h2V682h-2zM1608 666h2V682h-2zM1610 672h2V684h-2zM1612 658h2V678h-2zM1614 656h2V678h-2zM1616 660h2V674h-2zM1618 650h2V674h-2zM1620 656h2V676h-2zM1622 658h2V684h-2zM1624 666h2V684h-2zM1626 664h2V676h-2zM1628 658h2V672h-2zM1630 634h2V676h-2zM1632 632h2V648h-2zM1634 624h2V634h-2zM1636 624h2V646h-2zM1638 638h2V650h-2zM1640 642h2V660h-2zM1642 658h2V670h-2zM1644 668h2V682h-2zM1646 672h2V682h-2zM1648 672h2V684h-2zM1650 668h2V684h-2zM1652 668h2V690h-2zM1654 668h2V672h-2zM1656 670h2V690h-2zM1658 668h2V698h-2zM1660 666h2V680h-2zM1662 654h2V676h-2zM1664 666h2V686h-2zM1666 662h2V688h-2zM1668 672h2V688h-2zM1670 678h2V690h-2zM1672 676h2V686h-2zM1674 670h2V686h-2zM1676 676h2V686h-2zM1678 672h2V682h-2zM1680 662h2V676h-2zM1682 662h2V678h-2zM1684 672h2V680h-2zM1686 668h2V678h-2zM1688 672h2V678h-2zM1690 674h2V686h-2zM1692 672h2V692h-2zM1694 666h2V694h-2zM1696 668h2V682h-2zM1698 652h2V678h-2zM1700 664h2V688h-2zM1702 672h2V682h-2zM1704 664h2V674h-2zM1706 670h2V674h-2zM1708 662h2V672h-2zM1710 666h2V678h-2zM1712 652h2V686h-2zM1714 670h2V680h-2zM1716 668h2V686h-2zM1718 664h2V680h-2zM1720 668h2V680h-2zM1722 674h2V688h-2zM1724 674h2V686h-2zM1726 668h2V680h-2zM1728 666h2V686h-2zM1730 666h2V676h-2zM1732 664h2V674h-2zM1734 662h2V682h-2zM1736 664h2V676h-2zM1738 670h2V680h-2zM1740 670h2V678h-2zM1742 662h2V682h-2zM1744 656h2V674h-2zM1746 652h2V682h-2zM1748 662h2V672h-2zM1750 662h2V670h-2zM1752 658h2V672h-2zM1754 662h2V676h-2zM1756 668h2V682h-2zM1758 666h2V680h-2zM1760 666h2V682h-2zM1762 668h2V672h-2zM1764 668h2V686h-2zM1766 674h2V684h-2zM1768 670h2V688h-2zM1770 674h2V692h-2zM1772 660h2V688h-2zM1774 668h2V692h-2z" fill="#ff0000" shape-rendering="crispEdges"/><text x="145" y="1315" font-size="61.3" text-anchor="middle" stroke="#fff" stroke-width="1.2">20</text><text x="471" y="1315" font-size="61.3" text-anchor="middle" stroke="#fff" stroke-width="1.2">30</text><text x="797" y="1315" font-size="61.3" text-anchor="middle" stroke="#fff" stroke-width="1.2">40</text><text x="1123" y="1315" font-size="61.3" text-anchor="middle" stroke="#fff" stroke-width="1.2">50</text><text x="1449" y="1315" font-size="61.3" text-anchor="middle" stroke="#fff" stroke-width="1.2">60</text><text x="1775" y="1315" font-size="61.3" text-anchor="middle" stroke="#fff" stroke-width="1.2">70</text><text x="959" y="1433" font-size="82" font-weight="bold" text-anchor="middle">2<tspan font-style="italic" dx="6">θ</tspan><tspan dx="-6"> (degree)</tspan></text><text transform="translate(82,670) rotate(-90)" font-size="84" font-weight="bold" text-anchor="middle">Intensity (a.u.)</text><text y="125" font-size="81" font-weight="bold"><tspan x="1224.2">A</tspan> <tspan x="1299.3">---</tspan> <tspan x="1400.2" letter-spacing="-1.2">FTO</tspan></text><text y="239" font-size="81" font-weight="bold" fill="#ff0000"><tspan x="1228.6">B</tspan> <tspan x="1299.3">---</tspan> <tspan x="1397.2" letter-spacing="-0.3">ZnO/FTO</tspan></text><text transform="translate(186.9,144.5) scale(1.085,1)" font-family='"DejaVu Sans", sans-serif' font-size="57.8">♣</text><text x="262" y="145" font-size="88" font-weight="bold">---- FTO</text><text transform="translate(730.3,144.8) scale(-1.052,1)" font-family='"DejaVu Serif", serif' font-size="63.2" stroke="#fff" stroke-width="1.4">∇</text><text x="728.5" y="145" font-size="88" font-weight="bold">----ZnO</text><text x="180" y="569" font-size="106" font-weight="bold" fill="#ff0000">B</text><text x="178" y="1063" font-size="106" font-weight="bold">A</text><text transform="translate(634.2,507.1) rotate(-90) scale(-1.047,1)" font-family='"DejaVu Serif", serif' font-size="53.7" stroke="#fff" stroke-width="1.4">∇</text><text transform="translate(635.3,494.1) rotate(-90) scale(1.031,1)" font-size="61.5" font-weight="bold">(002)</text><text transform="translate(701.9,539.2) rotate(-90) scale(-1.047,1)" font-family='"DejaVu Serif", serif' font-size="53.7" stroke="#fff" stroke-width="1.4">∇</text><text transform="translate(701.0,521.4) rotate(-90) scale(1.031,1)" font-size="61.5" font-weight="bold">(101)</text><text transform="translate(1074.0,459.4) rotate(-90) scale(-1.047,1)" font-family='"DejaVu Serif", serif' font-size="53.7" stroke="#fff" stroke-width="1.4">∇</text><text transform="translate(1071.2,443.9) rotate(-90) scale(1.031,1)" font-size="61.5" font-weight="bold">(102)</text><text transform="translate(1570.0,443.1) rotate(-90) scale(-1.047,1)" font-family='"DejaVu Serif", serif' font-size="53.7" stroke="#fff" stroke-width="1.4">∇</text><text transform="translate(1569.3,427.6) rotate(-90) scale(1.031,1)" font-size="61.5" font-weight="bold">(103)</text><text transform="translate(386.1,1054.8) rotate(-90) scale(1.10,1)" font-family='"DejaVu Sans", sans-serif' font-size="49.6">♣</text><text transform="translate(384.8,991.8) rotate(-90) scale(1.031,1)" font-size="61.5" font-weight="bold">(110)</text><text transform="translate(752.2,912.6) rotate(-90) scale(1.10,1)" font-family='"DejaVu Sans", sans-serif' font-size="49.6">♣</text><text transform="translate(751.1,849.8) rotate(-90) scale(1.031,1)" font-size="61.5" font-weight="bold">(101)</text><text transform="translate(1204.1,1112.6) rotate(-90) scale(1.10,1)" font-family='"DejaVu Sans", sans-serif' font-size="49.6">♣</text><text transform="translate(1203.0,1049.8) rotate(-90) scale(1.031,1)" font-size="61.5" font-weight="bold">(200)</text><text transform="translate(1526.3,1145.4) rotate(-90) scale(1.10,1)" font-family='"DejaVu Sans", sans-serif' font-size="49.6">♣</text><text transform="translate(1525.1,1084.1) rotate(-90) scale(1.031,1)" font-size="61.5" font-weight="bold">(310)</text><text transform="translate(1662.7,1117.2) rotate(-90) scale(1.10,1)" font-family='"DejaVu Sans", sans-serif' font-size="49.6">♣</text><text transform="translate(1663.5,1052.4) rotate(-90) scale(1.031,1)" font-size="61.5" font-weight="bold">(301)</text></svg>
</body></html>
